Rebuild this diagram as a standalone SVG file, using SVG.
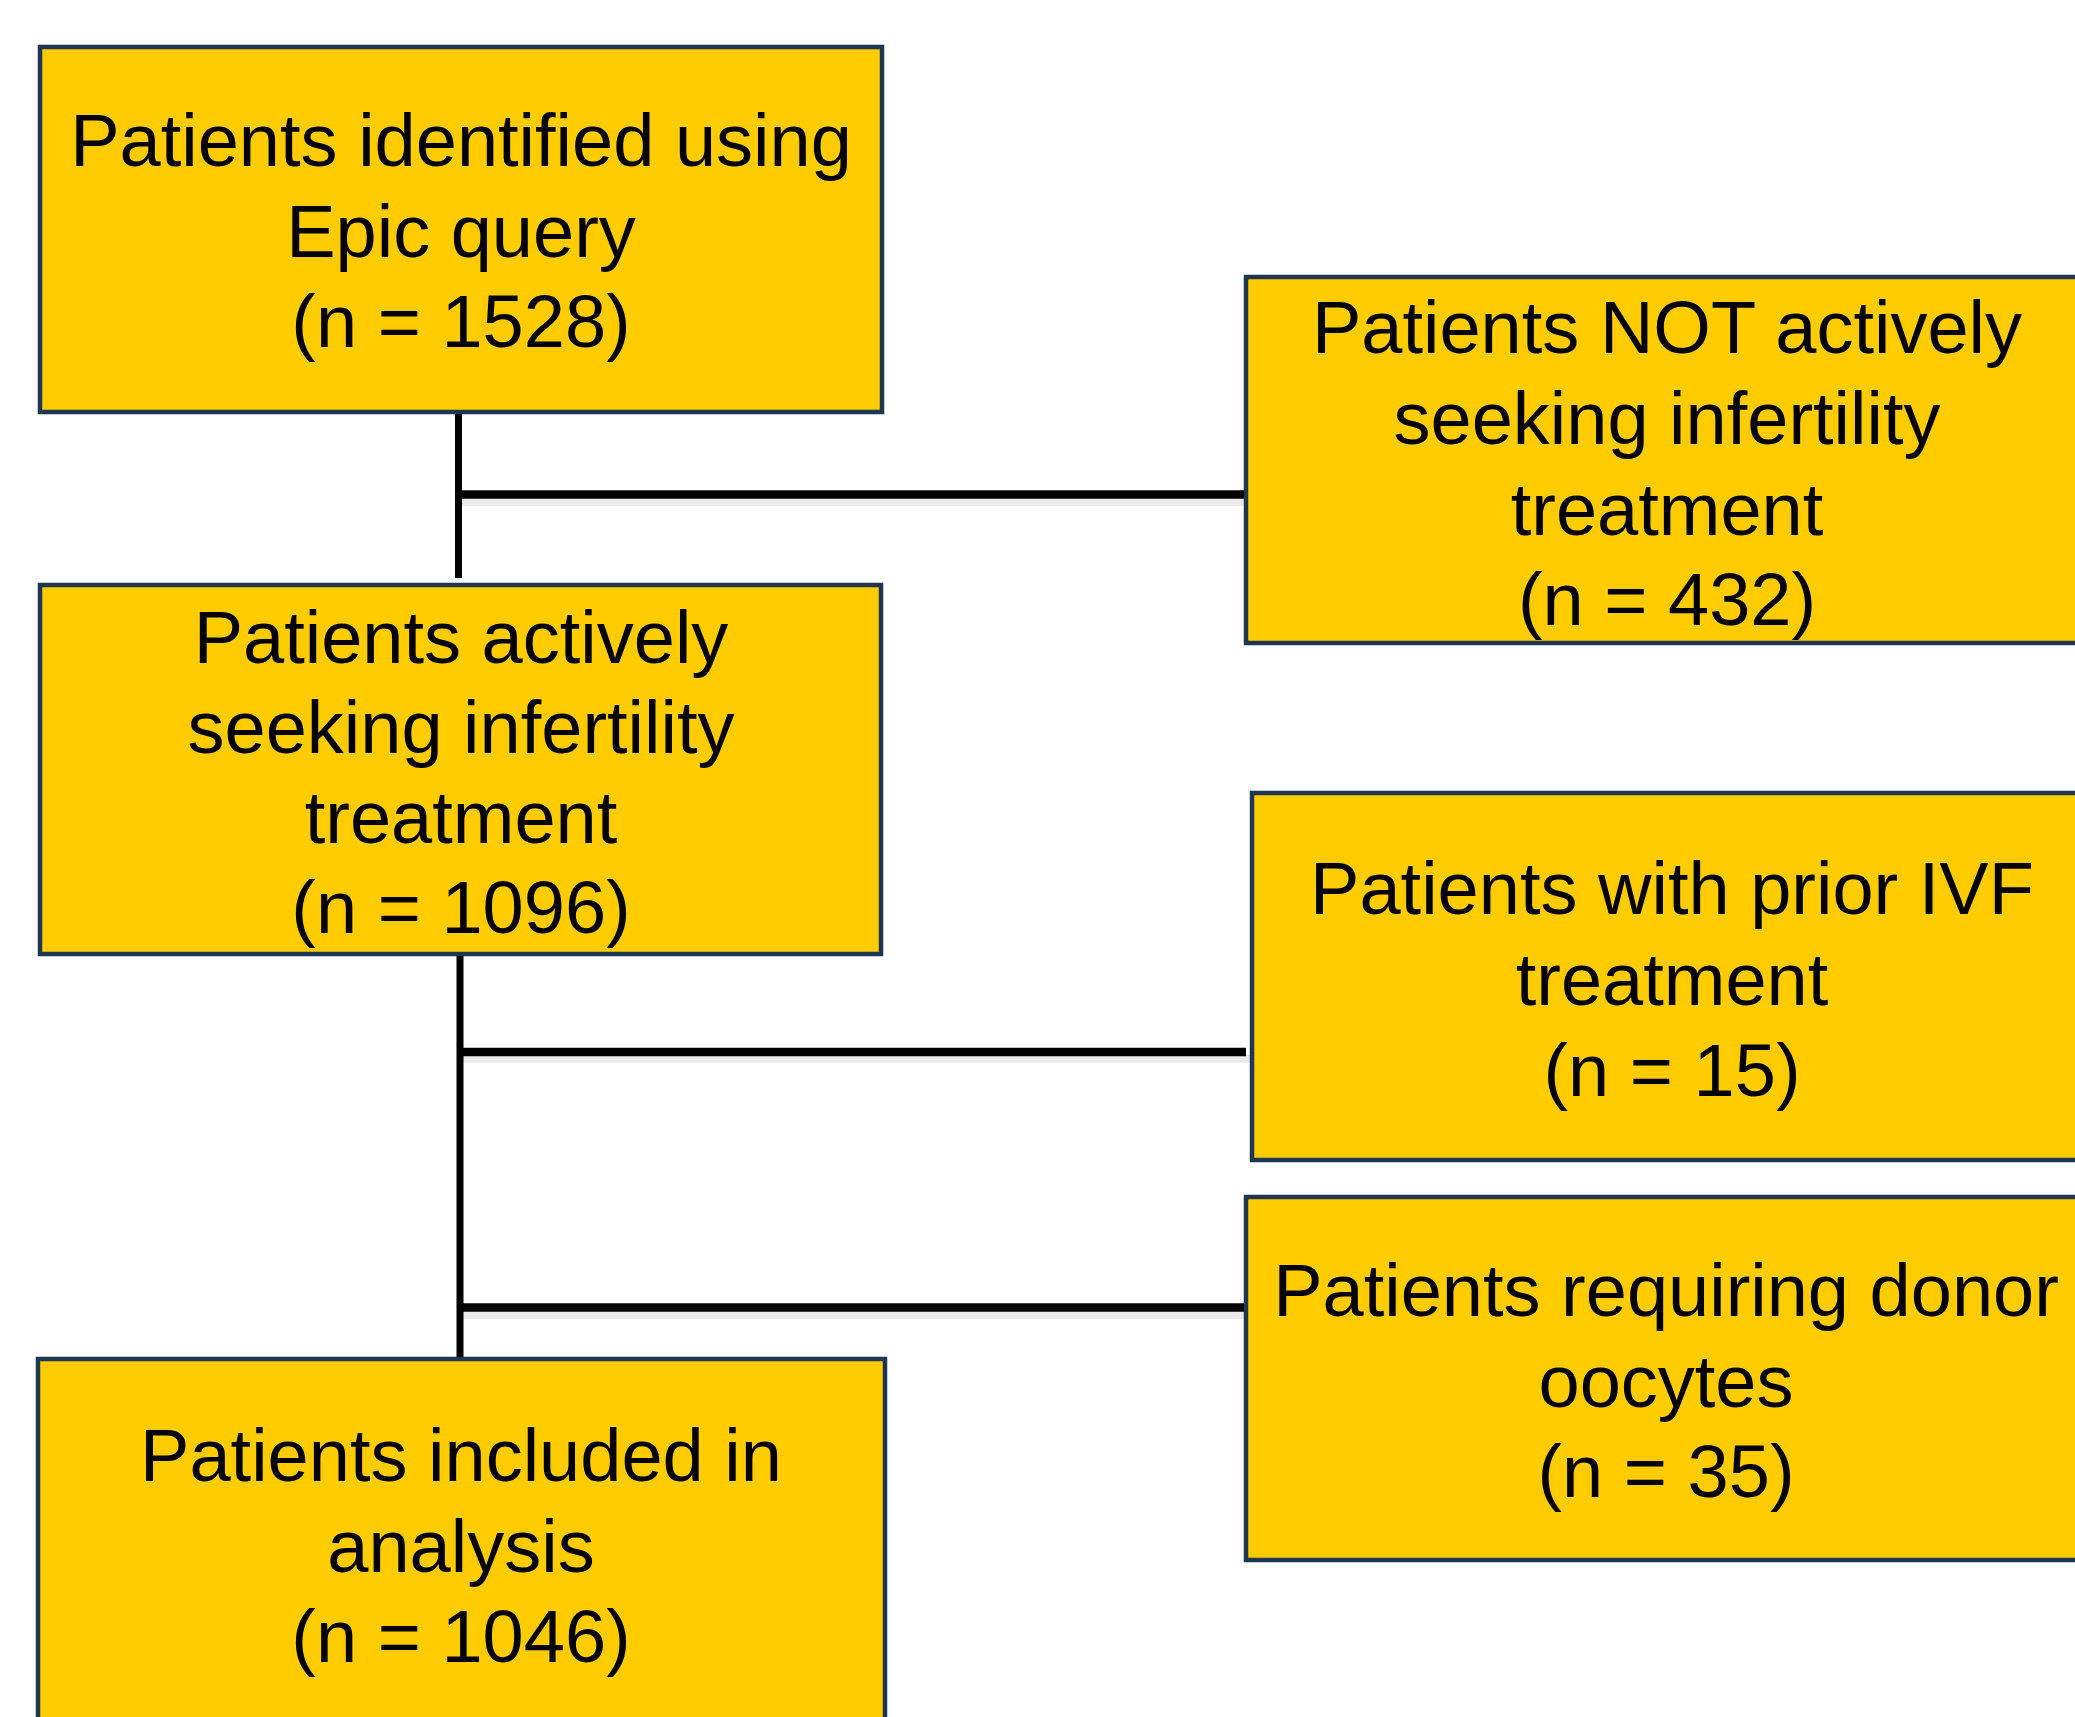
<svg xmlns="http://www.w3.org/2000/svg" width="2075" height="1717" viewBox="0 0 2075 1717">
<style>
.box{fill:#FFCC00;stroke:#1F3652;stroke-width:4.5}
.t{font-family:"Liberation Sans",Arial,sans-serif;font-size:74px;fill:#000;text-anchor:middle}
.v{stroke:#000;stroke-width:7;fill:none}
.h{stroke:#000;stroke-width:8.5;fill:none}
.sh{stroke:#000;stroke-opacity:0.08;stroke-width:8;fill:none}
</style>
<rect width="2075" height="1717" fill="#fff"/>
<g id="connectors">
<line class="sh" x1="462" y1="502" x2="1245" y2="502"/>
<line class="sh" x1="462" y1="1059" x2="1250" y2="1059"/>
<line class="sh" x1="462" y1="1315" x2="1246" y2="1315"/>
<line class="v" x1="458.5" y1="412" x2="458.5" y2="578"/>
<line class="h" x1="458" y1="494.5" x2="1246" y2="494.5"/>
<line class="v" x1="460" y1="955" x2="460" y2="1358"/>
<line class="h" x1="460" y1="1052" x2="1246" y2="1052"/>
<line class="h" x1="460" y1="1307.5" x2="1248" y2="1307.5"/>
</g>
<g id="n1">
<rect class="box" x="40" y="47" width="842" height="365"/>
<text class="t" x="461" y="166">Patients identified using</text>
<text class="t" x="461" y="257">Epic query</text>
<text class="t" x="461" y="347">(n = 1528)</text>
</g>
<g id="n2">
<rect class="box" x="1246" y="277" width="843" height="366"/>
<text class="t" x="1667" y="353">Patients NOT actively</text>
<text class="t" x="1667" y="444">seeking infertility</text>
<text class="t" x="1667" y="535">treatment</text>
<text class="t" x="1667" y="625">(n = 432)</text>
</g>
<g id="n3">
<rect class="box" x="40" y="585" width="841" height="369"/>
<text class="t" x="461" y="663">Patients actively</text>
<text class="t" x="461" y="753">seeking infertility</text>
<text class="t" x="461" y="843">treatment</text>
<text class="t" x="461" y="933">(n = 1096)</text>
</g>
<g id="n4">
<rect class="box" x="1252" y="793" width="843" height="367"/>
<text class="t" x="1672" y="914">Patients with prior IVF</text>
<text class="t" x="1672" y="1005">treatment</text>
<text class="t" x="1672" y="1096">(n = 15)</text>
</g>
<g id="n5">
<rect class="box" x="1246" y="1197" width="843" height="363"/>
<text class="t" x="1666" y="1316">Patients requiring donor</text>
<text class="t" x="1666" y="1407">oocytes</text>
<text class="t" x="1666" y="1497">(n = 35)</text>
</g>
<g id="n6">
<rect class="box" x="38" y="1359" width="847" height="380"/>
<text class="t" x="461" y="1481">Patients included in</text>
<text class="t" x="461" y="1572">analysis</text>
<text class="t" x="461" y="1662">(n = 1046)</text>
</g>
</svg>
